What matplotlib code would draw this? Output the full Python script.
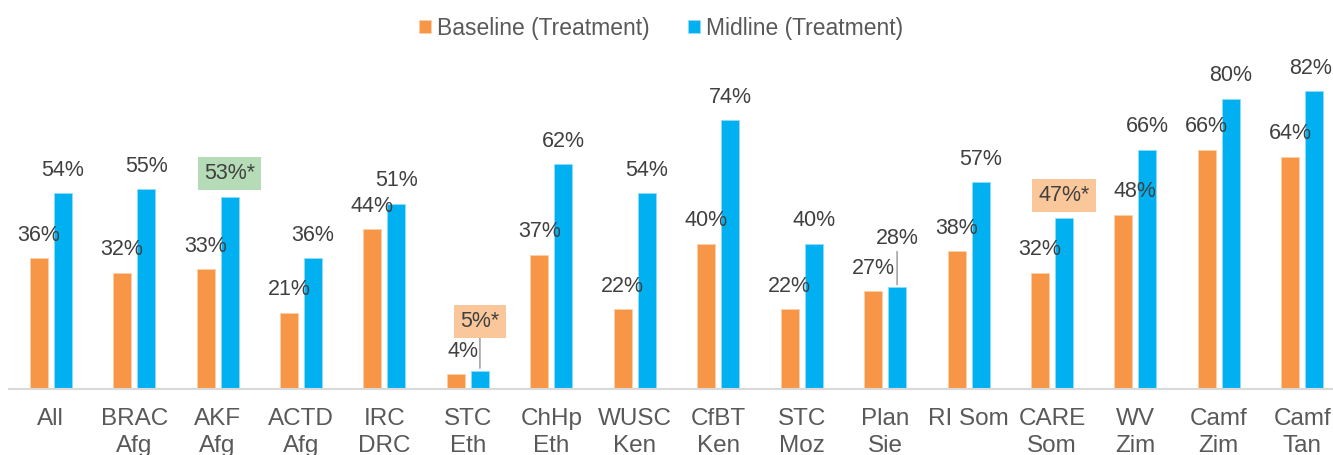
import numpy as np
import matplotlib.pyplot as plt

plt.rcParams['font.family'] = ['Liberation Sans', 'DejaVu Sans']

# data
programmes = ["All", "BRAC\nAfg", "AKF\nAfg", "ACTD\nAfg", "IRC\nDRC", "STC\nEth", "ChHp\nEth",
              "WUSC\nKen", "CfBT\nKen", "STC\nMoz", "Plan\nSie", "RI Som", "CARE\nSom",
              "WV\nZim", "Camf\nZim", "Camf\nTan"]
baseline = [36, 32, 33, 21, 44, 4, 37, 22, 40, 22, 27, 38, 32, 48, 66, 64]
midline = [54, 55, 53, 36, 51, 5, 62, 54, 74, 40, 28, 57, 47, 66, 80, 82]
# significant midline changes (box colour)
significant = {2: "#b5dcb7", 5: "#fac79a", 12: "#fac79a"}

orange = "#f79646"
blue = "#00b0f0"
txt = "#404040"

fig = plt.figure(figsize=(13.33, 4.55), dpi=100)
ax = fig.add_axes([9 / 1333, 66 / 455, 1335 / 1333, 389 / 455])

index = np.arange(len(programmes))
bar_width = 0.216
off = 0.144

ax.bar(index - off, baseline, bar_width, color=orange, edgecolor="#fbd0a8", linewidth=0.6,
       label="Baseline (Treatment)")
ax.bar(index + off, midline, bar_width, color=blue, edgecolor="#8fdcf7", linewidth=0.6,
       label="Midline (Treatment)")

ax.set_xlim(-0.5, 15.5)
ax.set_ylim(0, 107.2)

# baseline labels
for i, v in enumerate(baseline):
    dx = 0
    if i == 5:
        dx = 7
    if i == 13:
        dx = 12
    ax.annotate(f"{v}%", (i - off, v), xytext=(dx, 23), textcoords="offset pixels",
                ha="center", va="center", fontsize=15.5, color=txt)

# midline labels
for i, v in enumerate(midline):
    label = f"{v}%"
    dx, dy = 0, 23
    kw = {}
    if i in significant:
        label = f"{v}%*"
        kw["bbox"] = dict(boxstyle="square,pad=0.28", fc=significant[i], ec="none")
    if i == 5 or i == 10:
        dy = 49
        kw["arrowprops"] = dict(arrowstyle="-", color="#a6a6a6", lw=1.2, shrinkA=0, shrinkB=2)
    if i == len(midline) - 1:
        dx = -4
    ax.annotate(label, (i + off, v), xytext=(dx, dy), textcoords="offset pixels",
                ha="center", va="center", fontsize=15.5, color=txt, **kw)

ax.set_xticks(index)
ax.set_xticklabels(programmes, fontsize=17.5, color="#595959", linespacing=1.25)
ax.tick_params(axis="x", length=0, pad=14)
ax.set_yticks([])
for s in ["top", "right", "left"]:
    ax.spines[s].set_visible(False)
ax.spines["bottom"].set_color("#d9d9d9")
ax.spines["bottom"].set_linewidth(1.5)

fig.legend(loc="center", bbox_to_anchor=(0.496, 0.938), ncol=2, frameon=False, fontsize=16.5,
           handlelength=0.52, handleheight=0.52, handletextpad=0.26, columnspacing=1.7,
           labelcolor="#595959")

fig.savefig("out.png", dpi=100)
